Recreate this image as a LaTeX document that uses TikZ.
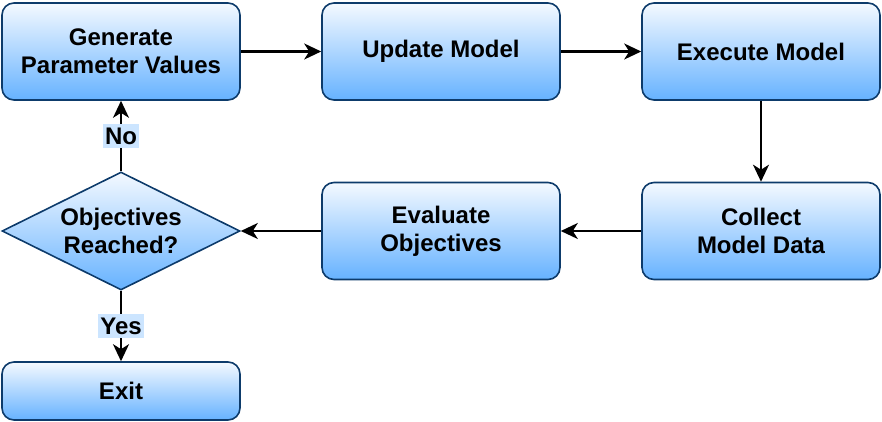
\documentclass[tikz,border=0pt]{standalone}
\usepackage{fontspec}
\setmainfont{Liberation Sans}
\usetikzlibrary{positioning, arrows.meta, shapes.geometric}

\definecolor{boxline}{HTML}{0D3B6B}
\definecolor{boxtop}{HTML}{F4F9FF}
\definecolor{boxbot}{HTML}{66B2FF}
\definecolor{labelbg}{HTML}{CCE5FF}

\begin{document}
\begin{tikzpicture}[
	x=1pt, y=-1pt,
	% Style for the process boxes
	process/.style={
		rectangle,
		rounded corners=12pt,
		draw=boxline,
		line width=1.6pt,
		top color=boxtop,
		bottom color=boxbot,
		align=center,
		font=\fontsize{24}{28}\selectfont\bfseries,
		minimum width=238pt,
		minimum height=97pt,
		inner sep=0pt
	},
	% Style for the decision diamond
	decision/.style={
		diamond,
		aspect=2,
		draw=boxline,
		line width=1.6pt,
		top color=boxtop,
		bottom color=boxbot,
		align=center,
		font=\fontsize{24}{28}\selectfont\bfseries,
		minimum width=238pt,
		minimum height=118pt,
		inner sep=0pt
	},
	% Style for the yes / no labels
	answer/.style={
		fill=labelbg,
		font=\fontsize{24}{28}\selectfont\bfseries,
		inner xsep=2pt,
		inner ysep=3.5pt
	},
	flow/.style={
		line width=2.2pt,
		-{Stealth[length=17pt, width=16pt, inset=5pt]}
	}
	]
	\useasboundingbox (0,0) rectangle (882,422);
	
	% Top row
	\node[process] (GP) at (121,51.5) {Generate\\Parameter Values};
	\node[process] (UM) at (441,51.5) {Update Model};
	\node[process] (EM) at (761,51.5) {Execute Model};
	
	% Middle row
	\node[process] (CD) at (761,231) {Collect\\Model Data};
	\node[process] (EO) at (441,231) {Evaluate\\Objectives};
	\node[decision] (OR) at (121,231) {Objectives\\Reached?};
	
	% Bottom row
	\node[process, minimum height=58pt] (EX) at (121,391) {Exit};
	
	\draw[flow] (GP) -- (UM);
	\draw[flow] (UM) -- (EM);
	\draw[flow] (EM) -- (CD);
	\draw[flow] (CD) -- (EO);
	\draw[flow] (EO) -- (OR);
	\draw[flow] (OR) -- node[answer] {No} (GP);
	\draw[flow] (OR) -- node[answer] {Yes} (EX);
	
\end{tikzpicture}
\end{document}
